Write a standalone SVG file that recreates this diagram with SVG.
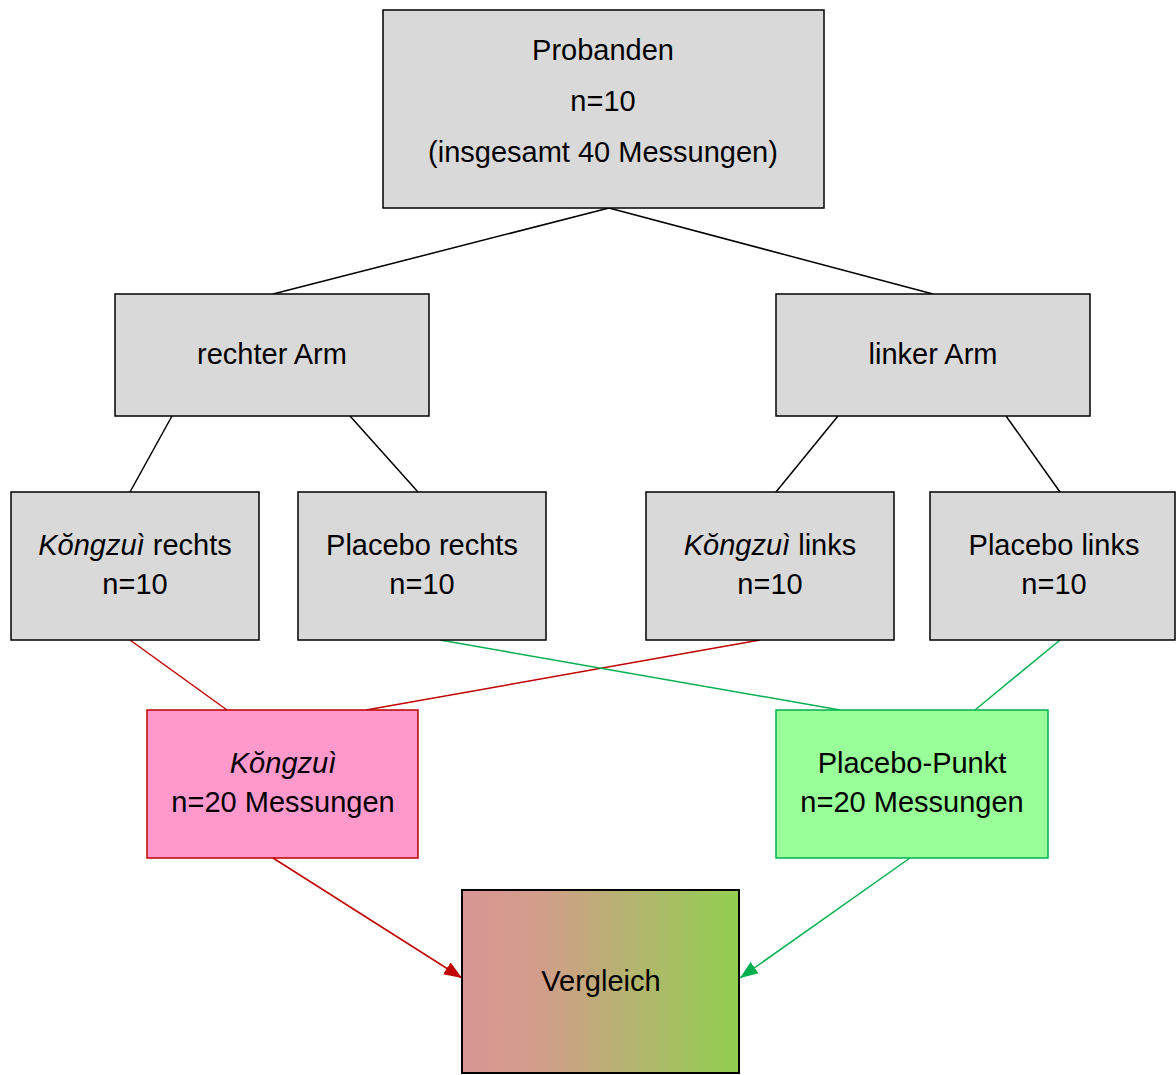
<svg xmlns="http://www.w3.org/2000/svg" width="1176" height="1075" viewBox="0 0 1176 1075">
<style>
.box{fill:#D9D9D9;stroke:#000;stroke-width:1.5}
.t{font-family:"Liberation Sans",Arial,sans-serif;font-size:29px;fill:#000;text-anchor:middle}
.k{stroke:#000;stroke-width:1.5;fill:none}
.r{stroke:#C00000;stroke-width:1.5;fill:none}
.g{stroke:#00B050;stroke-width:1.5;fill:none}
</style>
<defs>
<linearGradient id="grad" x1="0" y1="0" x2="1" y2="0">
<stop offset="0" stop-color="#D99594"/>
<stop offset="0.3" stop-color="#D09E88"/>
<stop offset="1" stop-color="#92D050"/>
</linearGradient>
<marker id="ar" markerWidth="18" markerHeight="14" refX="18" refY="7" orient="auto" markerUnits="userSpaceOnUse" viewBox="0 0 18 14">
<path d="M0,0 L18,7 L0,14 z" fill="#C00000"/>
</marker>
<marker id="ag" markerWidth="18" markerHeight="14" refX="18" refY="7" orient="auto" markerUnits="userSpaceOnUse" viewBox="0 0 18 14">
<path d="M0,0 L18,7 L0,14 z" fill="#00B050"/>
</marker>
</defs>
<rect width="1176" height="1075" fill="#fff"/>
<g id="connectors">
<line class="k" x1="609" y1="208" x2="273" y2="294"/>
<line class="k" x1="609" y1="208" x2="933" y2="294"/>
<line class="k" x1="172" y1="416" x2="130" y2="492"/>
<line class="k" x1="350" y1="416" x2="418" y2="492"/>
<line class="k" x1="838" y1="416" x2="776" y2="492"/>
<line class="k" x1="1006" y1="416" x2="1060" y2="492"/>
<line class="r" x1="130" y1="640" x2="227" y2="710"/>
<line class="r" x1="760" y1="640" x2="366" y2="710"/>
<line class="g" x1="440" y1="640" x2="840" y2="710"/>
<line class="g" x1="1060" y1="640" x2="975" y2="710"/>
<line class="r" stroke-width="2" x1="273" y1="858" x2="462" y2="978" marker-end="url(#ar)"/>
<line class="g" stroke-width="2" x1="910" y1="858" x2="740" y2="978" marker-end="url(#ag)"/>
</g>
<g id="probanden">
<rect class="box" x="383" y="10" width="441" height="198"/>
<text class="t" x="603" y="60">Probanden</text>
<text class="t" x="603" y="111">n=10</text>
<text class="t" x="603" y="162">(insgesamt 40 Messungen)</text>
</g>
<g id="rechter-arm">
<rect class="box" x="115" y="294" width="314" height="122"/>
<text class="t" x="272" y="364">rechter Arm</text>
</g>
<g id="linker-arm">
<rect class="box" x="776" y="294" width="314" height="122"/>
<text class="t" x="933" y="364">linker Arm</text>
</g>
<g id="kongzui-rechts">
<rect class="box" x="11" y="492" width="248" height="148"/>
<text class="t" x="135" y="555"><tspan font-style="italic">Kŏngzuì</tspan> rechts</text>
<text class="t" x="135" y="594">n=10</text>
</g>
<g id="placebo-rechts">
<rect class="box" x="298" y="492" width="248" height="148"/>
<text class="t" x="422" y="555">Placebo rechts</text>
<text class="t" x="422" y="594">n=10</text>
</g>
<g id="kongzui-links">
<rect class="box" x="646" y="492" width="248" height="148"/>
<text class="t" x="770" y="555"><tspan font-style="italic">Kŏngzuì</tspan> links</text>
<text class="t" x="770" y="594">n=10</text>
</g>
<g id="placebo-links">
<rect class="box" x="930" y="492" width="245" height="148"/>
<text class="t" x="1054" y="555">Placebo links</text>
<text class="t" x="1054" y="594">n=10</text>
</g>
<g id="kongzui">
<rect x="147" y="710" width="271" height="148" fill="#FF99CC" stroke="#C00000" stroke-width="1.5"/>
<text class="t" x="283" y="773" font-style="italic">Kŏngzuì</text>
<text class="t" x="283" y="812">n=20 Messungen</text>
</g>
<g id="placebo-punkt">
<rect x="776" y="710" width="272" height="148" fill="#99FF99" stroke="#00B050" stroke-width="1.5"/>
<text class="t" x="912" y="773">Placebo-Punkt</text>
<text class="t" x="912" y="812">n=20 Messungen</text>
</g>
<g id="vergleich">
<rect x="462" y="890" width="277" height="183" fill="url(#grad)" stroke="#000" stroke-width="2"/>
<text class="t" x="601" y="991">Vergleich</text>
</g>
</svg>
